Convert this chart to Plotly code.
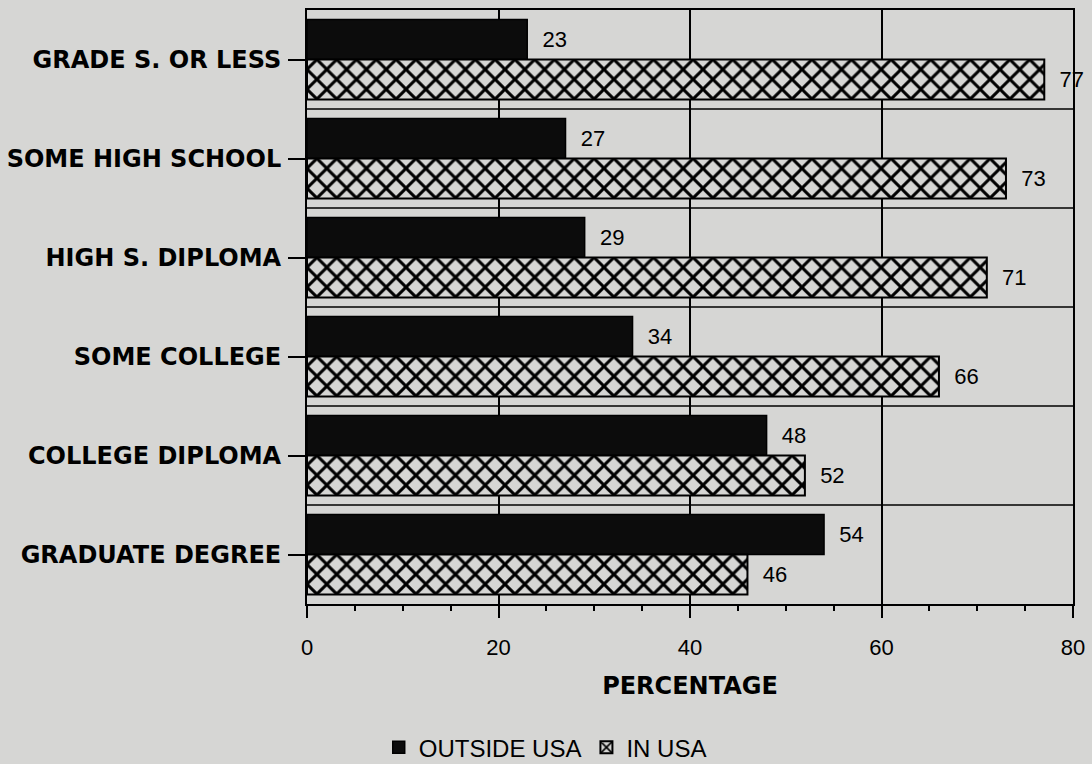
import plotly.graph_objects as go

categories = ["GRADE S. OR LESS", "SOME HIGH SCHOOL", "HIGH S. DIPLOMA",
              "SOME COLLEGE", "COLLEGE DIPLOMA", "GRADUATE DEGREE"]
outside_usa = [23, 27, 29, 34, 48, 54]
in_usa = [77, 73, 71, 66, 52, 46]
x_ticks = [0, 20, 40, 60, 80]

BG = "#d6d6d4"
FONT = "Liberation Sans, Arial, sans-serif"
BOLD = "DejaVu Sans, Liberation Sans, sans-serif"

fig = go.Figure()
fig.add_trace(go.Bar(
    y=categories, x=outside_usa, orientation="h", name="OUTSIDE USA",
    marker=dict(color="#0c0c0c", line=dict(color="black", width=1.5)),
    text=outside_usa, texttemplate="  %{x}", textposition="outside",
    textfont=dict(size=22, color="black", family=FONT), cliponaxis=False,
))
fig.add_trace(go.Bar(
    y=categories, x=in_usa, orientation="h", name="IN USA",
    marker=dict(color=BG, line=dict(color="black", width=2),
                pattern=dict(shape="x", fgcolor="black", bgcolor=BG,
                             fgopacity=1, size=14, solidity=0.38)),
    text=in_usa, texttemplate="  %{x}", textposition="outside",
    textfont=dict(size=22, color="black", family=FONT), cliponaxis=False,
))

# category separators
for i in range(len(categories) - 1):
    fig.add_shape(type="line", xref="paper", x0=0, x1=1, yref="y",
                  y0=i + 0.5, y1=i + 0.5, line=dict(color="black", width=1.5),
                  layer="below")

fig.update_layout(
    width=1092, height=764,
    paper_bgcolor=BG, plot_bgcolor=BG,
    margin=dict(l=307, r=19, t=10, b=160, autoexpand=False),
    barmode="group", bargap=0.19, bargroupgap=0,
    font=dict(family=FONT, size=22, color="black"),
    showlegend=True,
    legend=dict(orientation="h", x=0.311, xanchor="center", y=-0.242,
                yanchor="middle", font=dict(size=24, family=FONT),
                bgcolor="rgba(0,0,0,0)", traceorder="normal"),
)
fig.update_xaxes(
    range=[0, 80], tickvals=x_ticks, ticks="outside", ticklen=12, tickwidth=1.5,
    tickcolor="black", showgrid=True, gridcolor="black", gridwidth=1.5,
    showline=True, linecolor="black", linewidth=2, mirror=True, zeroline=False,
    minor=dict(dtick=5, ticks="outside", ticklen=5, tickwidth=1.5,
               tickcolor="black", showgrid=False),
    tickfont=dict(size=22, family=FONT), ticklabelstandoff=11,
    title=dict(text="<b>PERCENTAGE</b>", font=dict(size=24, family=BOLD),
               standoff=18),
    automargin=False,
)
fig.update_yaxes(
    autorange="reversed", ticks="outside", ticklen=17, tickwidth=1.5,
    tickcolor="black", showgrid=False, showline=True, linecolor="black",
    linewidth=2, mirror=True,
    tickfont=dict(size=24, family=BOLD, weight="bold"),
    ticklabelstandoff=2, automargin=False,
)

fig.write_html("out.html", config={"displayModeBar": False},
               post_script="document.body.style.margin='0';")
